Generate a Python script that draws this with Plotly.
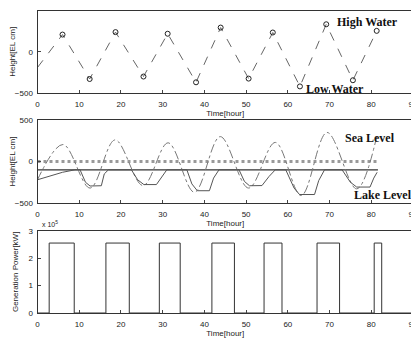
import plotly.graph_objects as go

# ---- data ----
tide_t = [0, 6.0, 12.5, 18.7, 25.4, 31.2, 38.0, 43.9, 50.6, 56.4, 62.9, 69.2, 75.6, 81.3]
tide_h = [-190, 210, -330, 240, -300, 220, -370, 295, -325, 235, -420, 335, -345, 255]

sea_t = [0, 6.1, 12.6, 18.6, 25.3, 31.3, 37.6, 43.8, 50.6, 57.0, 63.2, 69.4, 76.5, 81.3]
sea_h = [-220, 205, -320, 260, -290, 225, -370, 300, -320, 230, -410, 350, -330, 300]

lake_t = [0, 3, 6, 9, 10.2, 11.5, 12.6, 15.3, 16.0, 17.0, 22.5, 24.0, 25.5, 28.5, 29.8, 31.0,
          35.8, 37.0, 38.3, 41.2, 42.2, 43.5, 48.3, 49.6, 50.8, 53.8, 55.5, 57.0, 59.5, 61.5,
          62.8, 66.4, 67.4, 68.8, 73.0, 75.0, 76.5, 79.7, 80.6, 81.4]
lake_h = [-220, -175, -130, -100, -100, -250, -295, -292, -150, -100, -100, -220, -278, -278, -180, -100,
          -100, -270, -352, -352, -200, -100, -100, -240, -292, -290, -180, -100, -100, -320,
          -398, -398, -230, -100, -100, -250, -308, -308, -200, -130]

ref_t = [0, 81.6]
ref_high = [0, 0]
ref_low = [-100, -100]

gen_start = [2.8, 16.4, 29.2, 41.8, 54.3, 67.0, 80.7]
gen_end = [8.8, 22.0, 34.2, 47.2, 58.6, 72.4, 82.5]
gen_power = 2.55e5

x_ticks = [0, 10, 20, 30, 40, 50, 60, 70, 80, 90]

# build step series for generation power
gx, gy = [0], [0]
for s, e in zip(gen_start, gen_end):
    gx += [s, s, e, e]
    gy += [0, gen_power, gen_power, 0]
gx.append(90)
gy.append(0)

# the page body has an 8px margin: size/position the figure so it fills the 419x340 window
OFF = 8
W, H = 419 - OFF, 340 - OFF
def px_x(a, b):
    return [(a - OFF) / W, (b - OFF) / W]
def px_y(top, bottom):
    return [(H - (bottom - OFF)) / H, (H - (top - OFF)) / H]
def pax(x):
    return (x - OFF) / W
def pay(y):
    return (H - (y - OFF)) / H

fig = go.Figure()

# top panel
fig.add_trace(go.Scatter(x=tide_t, y=tide_h, mode="lines",
                         line=dict(color="#666", width=1, dash="dash"),
                         xaxis="x", yaxis="y", showlegend=False))
fig.add_trace(go.Scatter(x=tide_t[1:], y=tide_h[1:], mode="markers",
                         marker=dict(symbol="circle-open", size=5, color="#222", line=dict(width=1)),
                         xaxis="x", yaxis="y", showlegend=False))

# middle panel
fig.add_trace(go.Scatter(x=ref_t, y=ref_high, mode="lines",
                         line=dict(color="#999", width=3, dash="dot"),
                         xaxis="x2", yaxis="y2", showlegend=False))
fig.add_trace(go.Scatter(x=ref_t, y=ref_low, mode="lines",
                         line=dict(color="#333", width=1.2),
                         xaxis="x2", yaxis="y2", showlegend=False))
fig.add_trace(go.Scatter(x=sea_t, y=sea_h, mode="lines", line_shape="spline",
                         line=dict(color="#777", width=1, dash="dashdot"),
                         xaxis="x2", yaxis="y2", showlegend=False))
fig.add_trace(go.Scatter(x=lake_t, y=lake_h, mode="lines",
                         line=dict(color="#555", width=1),
                         xaxis="x2", yaxis="y2", showlegend=False))

# bottom panel
fig.add_trace(go.Scatter(x=gx, y=gy, mode="lines",
                         line=dict(color="#333", width=1),
                         xaxis="x3", yaxis="y3", showlegend=False))

tick_font = dict(family="Liberation Sans, Arial, sans-serif", size=8, color="#222")
common_x = dict(range=[0, 90], tickvals=x_ticks, ticks="inside", ticklen=3,
                showline=True, mirror=True, linecolor="#333", linewidth=1,
                showgrid=False, zeroline=False, tickfont=tick_font, automargin=False,
                ticklabelstandoff=3,
                title=dict(text="Time[hour]", font=tick_font, standoff=0))
common_y = dict(ticks="inside", ticklen=3, showline=True, mirror=True,
                linecolor="#333", linewidth=1, showgrid=False, zeroline=False,
                tickfont=tick_font, automargin=False, ticklabelstandoff=2)

xd = px_x(37.5, 413)
fig.update_layout(
    width=W, height=H, margin=dict(l=0, r=0, t=0, b=0),
    paper_bgcolor="white", plot_bgcolor="white",
    xaxis=dict(domain=xd, anchor="y", **common_x),
    yaxis=dict(domain=px_y(10.7, 93), anchor="x", range=[-500, 500], tickvals=[-500, 0, 500],
               title=dict(text="Height[EL cm]", font=tick_font, standoff=5), **common_y),
    xaxis2=dict(domain=xd, anchor="y2", **common_x),
    yaxis2=dict(domain=px_y(120, 203), anchor="x2", range=[-500, 500], tickvals=[-500, 0, 500],
                title=dict(text="Height[EL cm]", font=tick_font, standoff=5), **common_y),
    xaxis3=dict(domain=xd, anchor="y3", **common_x),
    yaxis3=dict(domain=px_y(230.7, 313), anchor="x3", range=[0, 3e5],
                tickvals=[0, 1e5, 2e5, 3e5], ticktext=["0", "1", "2", "3"],
                title=dict(text="Generation Power[kW]", font=tick_font, standoff=8), **common_y),
)

label_font = dict(family="Liberation Serif, Times New Roman, serif", size=12, color="#111")
fig.add_annotation(x=79.0, y=360, xref="x", yref="y", text="<b>High Water</b>",
                   showarrow=False, font=label_font)
fig.add_annotation(x=71.3, y=-452, xref="x", yref="y", text="<b>Low Water</b>",
                   showarrow=False, font=label_font)
fig.add_annotation(x=79.6, y=287, xref="x2", yref="y2", text="<b>Sea Level</b>",
                   showarrow=False, font=label_font)
fig.add_annotation(x=pax(414), y=pay(195), xref="paper", yref="paper", text="<b>Lake Level</b>",
                   showarrow=False, xanchor="right", font=dict(label_font, size=12))
fig.add_annotation(x=pax(40), y=pay(230), xref="paper", yref="paper",
                   text="x 10<sup>5</sup>", showarrow=False, xanchor="left", yanchor="bottom",
                   font=dict(family="Liberation Sans, Arial, sans-serif", size=7, color="#222"))

fig.write_html("out.html")
